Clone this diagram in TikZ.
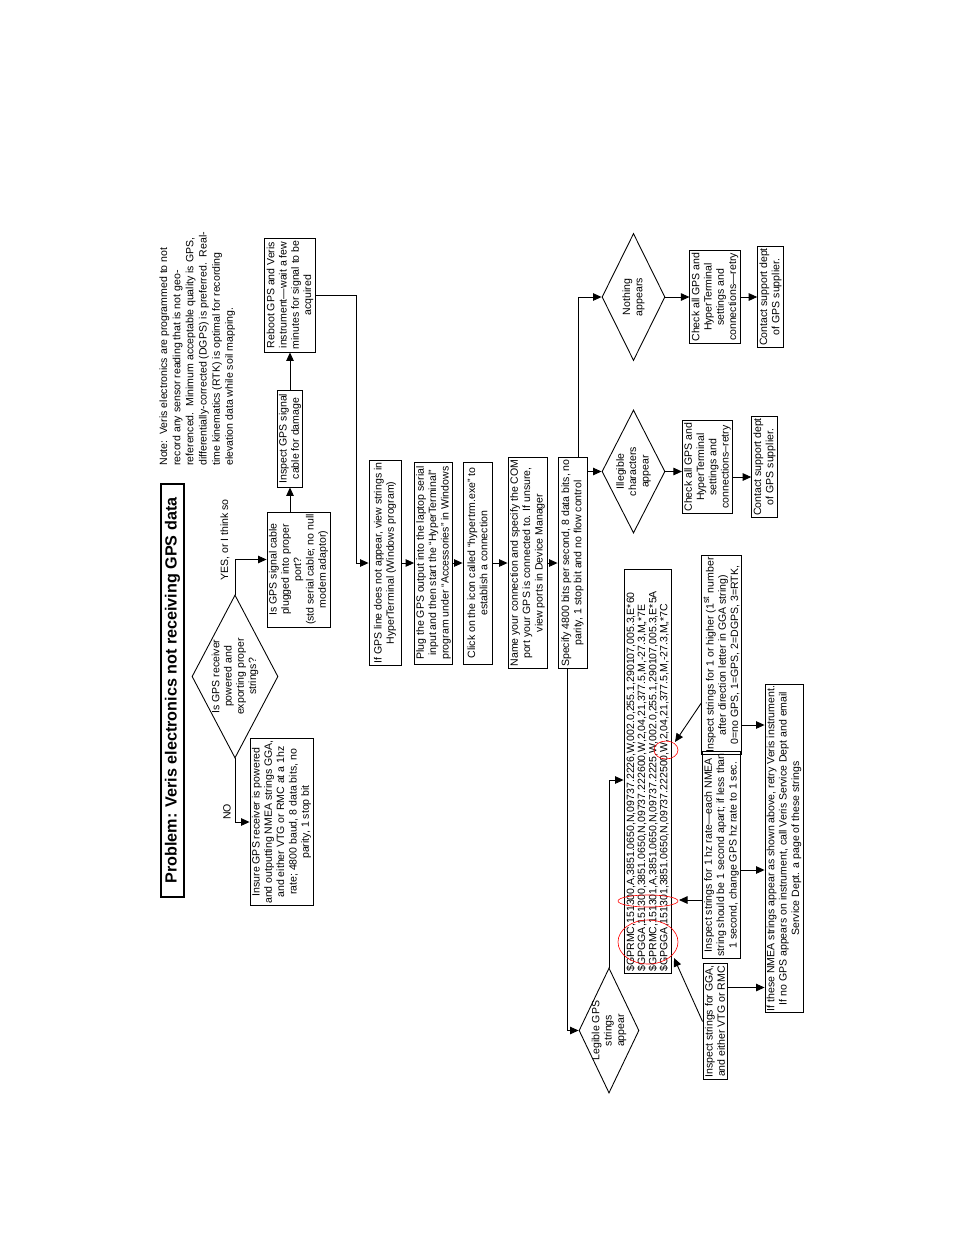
\documentclass[tikz,border=0pt]{standalone}
\usepackage{fontspec}
\setmainfont{Liberation Sans}
\usetikzlibrary{arrows.meta, shapes.geometric, calc}
\tikzset{
  box/.style={rectangle,draw,rotate=90,align=center,inner sep=1pt,
    font=\fontsize{6}{7}\selectfont},
  dia/.style={diamond,draw,rotate=90,inner sep=0pt},
  dtxt/.style={rotate=90,align=center,inner sep=0pt,font=\fontsize{6}{7}\selectfont},
  lbl/.style={rotate=90,inner sep=0pt,font=\fontsize{6}{7}\selectfont},
  ar/.style={-{Triangle[length=1.7mm,width=1.5mm]}},
  ring/.style={draw=red,line width=0.35pt}
}

\begin{document}
\begin{tikzpicture}[x=0.2mm,y=-0.2mm,line width=0.5pt]
\useasboundingbox (0,0) rectangle (954,1235);
\node[box,line width=1.2pt,minimum width=82.6mm,minimum height=4.6mm,inner sep=0pt,
  font=\bfseries\fontsize{9.2}{11}\selectfont] (title) at (172.5,690.5)
  {Problem: Veris electronics not receiving GPS data};
\node[lbl,anchor=north west,align=left,font=\fontsize{6}{7.5}\selectfont] (note) at (159,466)
  {Note:\ \ Veris electronics are programmed to not\\
   record any sensor reading that is not geo-\\
   referenced.\ \ Minimum acceptable quality is GPS,\\
   differentially-corrected (DGPS) is preferred.\ \ Real-\\
   time kinematics (RTK) is optimal for recording\\
   elevation data while soil mapping.};

\node[dia,minimum width=32.6mm,minimum height=17.2mm] (dPow) at (235,676.5) {};
\node[dtxt] (dPowT) at (dPow) {Is GPS receiver\\powered and\\exporting proper\\strings?};
\node[box,minimum width=32mm,minimum height=12.6mm] (bxIns) at (281.5,822)
  {Insure GPS receiver is powered\\and outputting NMEA strings GGA,\\and either VTG or RMC at a 1hz\\rate; 4800 baud, 8 data bits, no\\parity, 1 stop bit};
\node[box,minimum width=23mm,minimum height=12.6mm] (bxPlug) at (298.5,569.5)
  {Is GPS signal cable\\plugged into proper\\port?\\(std serial cable; no null\\modem adaptor)};
\node[box,minimum width=19.4mm,minimum height=5mm] (bxCable) at (290,438.5)
  {Inspect GPS signal\\cable for damage};
\node[box,minimum width=22.8mm,minimum height=9.8mm] (bxReboot) at (290,295)
  {Reboot GPS and Veris\\instrument---wait a few\\minutes for signal to be\\acquired};
\node[lbl] (lNo) at (227,812) {NO};
\node[lbl] (lYes) at (225,540) {YES, or I think so};

\node[box,minimum width=40.4mm,minimum height=6.4mm] (bxA) at (385,563)
  {If GPS line does not appear, view strings in\\HyperTerminal (Windows program)};
\node[box,minimum width=40.4mm,minimum height=7.4mm] (bxB) at (433.5,563)
  {Plug the GPS output into the laptop serial\\input and then start the ``HyperTerminal''\\program under ``Accessories'' in Windows};
\node[box,minimum width=40.4mm,minimum height=5.8mm] (bxC) at (477.5,563)
  {Click on the icon called ``hypertrm.exe'' to\\establish a connection};
\node[box,minimum width=40.4mm,minimum height=7.8mm] (bxD) at (527.5,563)
  {Name your connection and specify the COM\\port your GPS is connected to. If unsure,\\view ports in Device Manager};
\node[box,minimum width=40.4mm,minimum height=5.8mm] (bxE) at (572.5,563)
  {Specify 4800 bits per second, 8 data bits, no\\parity, 1 stop bit and no flow control};

\node[dia,minimum width=25.4mm,minimum height=12.6mm] (dNone) at (633.5,297) {};
\node[dtxt] (dNoneT) at (dNone) {Nothing\\appears};
\node[dia,minimum width=24.6mm,minimum height=12.6mm] (dIll) at (633.5,471.5) {};
\node[dtxt] (dIllT) at (dIll) {Illegible\\characters\\appear};
\node[dia,minimum width=25mm,minimum height=12mm] (dLeg) at (609,1030.5) {};
\node[dtxt] (dLegT) at (dLeg) {Legible GPS\\strings\\appear};

\node[box,minimum width=17mm,minimum height=9.8mm] (bxChk1) at (707.5,467)
  {Check all GPS and\\HyperTerminal\\settings and\\connections--retry};
\node[box,minimum width=16.2mm,minimum height=4.6mm] (bxSup1) at (764.5,467)
  {Contact support dept\\of GPS supplier.};
\node[box,minimum width=18.6mm,minimum height=10mm] (bxChk2) at (715,297)
  {Check all GPS and\\HyperTerminal\\settings and\\connections---retry};
\node[box,minimum width=18.4mm,minimum height=5mm] (bxSup2) at (770.5,297)
  {Contact support dept\\of GPS supplier.};

\node[box,align=left,text width=80mm,minimum height=9.4mm,font=\fontsize{6}{6.3}\selectfont] (bxStr) at (647.5,771.5)
  {\$GPRMC,151300,A,3851.0650,N,09737.2226,W,002.0,255.1,290107,005.3,E*60\\
   \$GPGGA,151300,3851.0650,N,09737.222600,W,2,04,21,377.5,M,-27.3,M,,*7E\\
   \$GPRMC,151301,A,3851.0650,N,09737.2225,W,002.0,255.1,290107,005.3,E*5A\\
   \$GPGGA,151301,3851.0650,N,09737.222500,W,2,04,21,377.5,M,-27.3,M,,*7C};
\node[box,minimum width=22.6mm,minimum height=4.8mm] (bxGGA) at (715,1021.5)
  {Inspect strings for GGA,\\and either VTG or RMC};
\node[box,minimum width=39.2mm,minimum height=7.4mm] (bxHz) at (721.5,855)
  {Inspect strings for 1 hz rate---each NMEA\\string should be 1 second apart; if less than\\1 second, change GPS hz rate to 1 sec.};
\node[box,minimum width=36mm,minimum height=7.4mm] (bxRTK) at (721.5,655)
  {Inspect strings for 1 or higher (1\textsuperscript{st} number\\after direction letter in GGA string)\\0=no GPS, 1=GPS, 2=DGPS, 3=RTK,};
\node[box,minimum width=62.6mm,minimum height=7.6mm] (bxNote2) at (784,848.5)
  {If these NMEA strings appear as shown above, retry Veris instrument.\\If no GPS appears on instrument, call Veris Service Dept and email\\Service Dept. a page of these strings};

\draw[ar] (dPow.west) |- (bxIns.north);
\draw[ar] (dPow.east) |- ([yshift=2mm]bxPlug.north);
\draw[ar] (bxCable.west |- bxPlug.east) -- (bxCable.west);
\draw[ar] (bxCable.east) -- (bxReboot.west);
\draw[ar] (bxReboot.south) -- ++(41,0) |- (bxA.north);
\foreach \a/\b in {bxA/bxB,bxB/bxC,bxC/bxD,bxD/bxE}
  \draw[ar] (\a.south) -- (\b.north);
\draw[ar] ([xshift=1.1mm]bxE.east) |- (dNone.north);
\draw[ar] (bxE.south |- dIll.north) -- (dIll.north);
\draw[ar] ([xshift=-1.1mm]bxE.west) |- (dLeg.north);
\draw[ar] (dIll.south) -- (dIll.south -| bxChk1.north);
\draw[ar] ([yshift=-2mm]bxChk1.south) -- ([yshift=-2mm]bxSup1.north);
\draw[ar] (dNone.south) -- (bxChk2.north);
\draw[ar] (bxChk2.south) -- (bxSup2.north);
\draw[ar] (dLeg.east) |- ([yshift=-1.7mm]bxStr.north);

\coordinate (pGGA) at (674,958);
\draw[ar] (bxGGA.north) -- (pGGA);
\coordinate (ggaOut) at ($(bxGGA.south)+(0,-34)$);
\draw[ar] (ggaOut) -- (ggaOut -| bxNote2.north);
\coordinate (pHz) at (679,900);
\draw[ar] (bxHz.north |- pHz) -- (pHz);
\coordinate (hzOut) at ($(bxHz.south)+(0,15)$);
\draw[ar] (hzOut) -- (hzOut -| bxNote2.north);
\coordinate (pRTK) at (675,742);
\draw[ar] ($(bxRTK.north)+(0,48)$) -- (pRTK);
\coordinate (rtkOut) at ($(bxRTK.south)+(0,70)$);
\draw[ar] (rtkOut) -- (rtkOut -| bxNote2.north);

\draw[ring] (648,942) ellipse [x radius=6mm,y radius=4.4mm];
\draw[ring] (648,901) ellipse [x radius=6mm,y radius=1.2mm];
\draw[ring] (666,750) ellipse [x radius=2.4mm,y radius=1.8mm];
\end{tikzpicture}
\end{document}
